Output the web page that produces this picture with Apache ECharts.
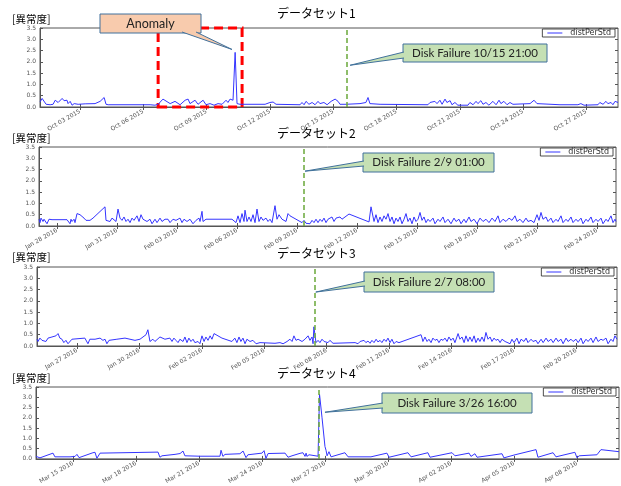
<!DOCTYPE html>
<html>
<head>
<meta charset="utf-8">
<script src="https://cdn.jsdelivr.net/npm/echarts@6/dist/echarts.min.js"></script>
<style>
  html, body { margin: 0; padding: 0; background: #fff; }
  #chart { width: 621px; height: 486px; }
</style>
</head>
<body>
<div id="chart"></div>
<script>
// x values are days since the base date of each dataset
const titles = ["データセット1", "データセット2", "データセット3", "データセット4"];
const bases = ["2015-10-01", "2016-01-27", "2016-01-25", "2016-03-13"];
const xRanges = [[0.10, 27.50], [0.10, 28.95], [0.08, 27.96], [0.24, 28.00]];
const tickDays = [
  [2, 5, 8, 11, 14, 17, 20, 23, 26],
  [1, 4, 7, 10, 13, 16, 19, 22, 25, 28],
  [2, 5, 8, 11, 14, 17, 20, 23, 26],
  [2, 5, 8, 11, 14, 17, 20, 23, 26]
];
const failureDays = [14.62, 13.35, 13.44, 13.71];
const failureLabels = ["Disk Failure 10/15 21:00", "Disk Failure 2/9 01:00", "Disk Failure 2/7 08:00", "Disk Failure 3/26 16:00"];
const anomalyRange = [5.70, 9.68];

const ds1 = [[0.10,0.22],[0.20,0.38],[0.29,0.30],[0.39,0.12],[0.48,0.08],[0.58,0.10],[0.72,0.12],[0.82,0.30],[0.91,0.35],[0.96,0.20],[1.05,0.25],[1.15,0.38],[1.24,0.28],[1.29,0.20],[1.38,0.30],[1.43,0.15],[1.53,0.25],[1.62,0.08],[1.72,0.15],[1.81,0.10],[1.91,0.12],[2.24,0.14],[2.71,0.15],[2.95,0.25],[3.14,0.42],[3.23,0.12],[3.33,0.10],[5.32,0.10],[5.55,0.08],[5.70,0.12],[5.93,0.35],[6.27,0.15],[6.50,0.25],[6.74,0.10],[6.98,0.30],[7.12,0.35],[7.21,0.15],[7.45,0.30],[7.59,0.12],[7.83,0.30],[7.97,0.10],[8.16,0.15],[8.35,0.08],[8.54,0.15],[8.73,0.12],[8.92,0.30],[9.01,0.20],[9.11,0.35],[9.25,0.30],[9.35,2.42],[9.44,0.15],[9.58,0.12],[10.77,0.12],[11.00,0.20],[11.15,0.22],[11.29,0.12],[12.43,0.10],[12.52,0.20],[12.62,0.10],[12.71,0.25],[12.85,0.12],[13.00,0.20],[13.14,0.10],[13.28,0.25],[13.37,0.15],[13.56,0.20],[13.71,0.10],[13.90,0.25],[14.09,0.35],[14.23,0.25],[14.32,0.12],[14.61,0.12],[15.27,0.15],[15.55,0.20],[15.65,0.42],[15.74,0.15],[16.22,0.12],[18.49,0.10],[18.59,0.20],[18.68,0.12],[18.82,0.25],[18.92,0.15],[19.06,0.30],[19.16,0.12],[19.30,0.35],[19.39,0.20],[19.54,0.28],[19.63,0.10],[19.77,0.20],[19.91,0.08],[20.39,0.08],[20.48,0.20],[20.63,0.10],[20.77,0.25],[20.86,0.15],[21.00,0.28],[21.10,0.12],[21.24,0.20],[21.38,0.08],[21.57,0.25],[21.72,0.10],[21.86,0.30],[21.95,0.15],[22.09,0.25],[22.24,0.10],[22.38,0.20],[22.52,0.12],[23.33,0.15],[23.52,0.30],[23.66,0.15],[24.75,0.10],[25.60,0.10],[25.74,0.15],[25.89,0.08],[26.55,0.10],[26.64,0.20],[26.79,0.12],[26.93,0.25],[27.02,0.15],[27.17,0.20],[27.26,0.10],[27.36,0.25],[27.50,0.20]];

const ds2 = [[0.10,0.30],[0.15,0.15],[0.20,0.35],[0.30,0.20],[0.35,0.30],[0.45,0.25],[0.50,0.10],[0.60,0.30],[0.65,0.25],[0.75,0.28],[1.50,0.28],[1.55,0.20],[1.60,0.35],[1.65,0.10],[1.70,0.30],[1.75,0.20],[1.85,0.30],[1.90,0.15],[2.00,0.55],[2.15,0.50],[2.35,0.35],[2.45,0.25],[2.65,0.25],[2.80,0.35],[3.40,0.85],[3.45,0.25],[3.55,0.30],[3.65,0.20],[3.75,0.35],[3.95,0.20],[4.05,0.75],[4.15,0.35],[4.25,0.25],[4.35,0.40],[4.45,0.20],[4.55,0.30],[4.65,0.15],[4.75,0.35],[4.85,0.25],[5.00,0.45],[5.10,0.20],[5.20,0.50],[5.30,0.30],[5.40,0.35],[5.50,0.20],[5.65,0.30],[5.75,0.10],[5.90,0.30],[6.00,0.15],[6.15,0.35],[6.25,0.20],[6.40,0.30],[6.55,0.30],[6.65,0.15],[6.80,0.30],[6.95,0.25],[7.15,0.35],[7.25,0.15],[7.35,0.30],[7.50,0.20],[7.65,0.30],[7.80,0.10],[7.95,0.25],[8.10,0.35],[8.15,0.20],[8.25,0.65],[8.30,0.20],[8.45,0.30],[8.55,0.25],[8.65,0.30],[9.75,0.30],[9.95,0.15],[10.05,0.45],[10.15,0.15],[10.25,0.55],[10.35,0.20],[10.40,0.70],[10.50,0.20],[10.60,0.40],[10.70,0.20],[10.80,0.50],[10.90,0.15],[11.00,0.75],[11.10,0.20],[11.20,0.40],[11.30,0.25],[11.45,0.35],[11.55,0.20],[11.65,0.30],[11.75,0.15],[11.90,0.90],[12.00,0.30],[12.10,0.50],[12.25,0.30],[12.35,0.35],[12.45,0.20],[12.55,0.55],[12.65,0.45],[13.25,0.15],[13.35,0.25],[13.45,0.12],[13.55,0.20],[13.65,0.10],[13.75,0.25],[13.85,0.15],[13.95,0.30],[14.05,0.15],[14.15,0.30],[14.25,0.20],[14.35,0.35],[14.45,0.15],[14.55,0.30],[14.65,0.25],[14.75,0.40],[14.85,0.20],[14.95,0.35],[15.05,0.30],[15.15,0.40],[15.25,0.30],[15.35,0.38],[15.60,0.53],[15.70,0.45],[16.60,0.18],[16.70,0.85],[16.85,0.20],[16.95,0.50],[17.05,0.15],[17.15,0.40],[17.25,0.20],[17.35,0.45],[17.45,0.30],[17.55,0.55],[17.65,0.20],[17.75,0.40],[17.85,0.10],[17.95,0.35],[18.05,0.20],[18.15,0.40],[18.25,0.10],[18.35,0.30],[18.45,0.55],[18.55,0.20],[18.65,0.35],[18.75,0.10],[18.85,0.40],[18.95,0.20],[19.05,0.30],[19.15,0.60],[19.25,0.25],[19.35,0.40],[19.45,0.15],[19.55,0.30],[19.65,0.20],[19.80,0.35],[19.90,0.10],[20.05,0.30],[20.15,0.20],[20.30,0.40],[20.40,0.15],[20.55,0.30],[20.70,0.10],[20.85,0.35],[20.95,0.20],[21.10,0.30],[21.20,0.10],[21.35,0.30],[21.45,0.15],[21.60,0.40],[21.70,0.20],[21.85,0.30],[22.00,0.10],[22.15,0.35],[22.30,0.20],[22.45,0.30],[22.60,0.15],[22.75,0.35],[22.90,0.20],[23.05,0.45],[23.15,0.15],[23.30,0.30],[23.45,0.20],[23.60,0.35],[23.75,0.25],[23.90,0.45],[24.00,0.20],[24.15,0.30],[24.30,0.15],[24.45,0.35],[24.55,0.20],[24.70,0.25],[24.85,0.15],[25.00,0.50],[25.10,0.25],[25.20,0.60],[25.30,0.30],[25.45,0.40],[25.55,0.20],[25.70,0.35],[25.80,0.15],[25.95,0.30],[26.05,0.20],[26.20,0.45],[26.30,0.15],[26.45,0.30],[26.55,0.20],[26.70,0.40],[26.80,0.15],[26.95,0.30],[27.05,0.20],[27.20,0.35],[27.30,0.10],[27.45,0.30],[27.55,0.20],[27.70,0.40],[27.80,0.15],[27.95,0.30],[28.05,0.20],[28.20,0.35],[28.30,0.10],[28.45,0.30],[28.55,0.20],[28.70,0.45],[28.80,0.15],[28.90,0.30],[28.95,0.20]];

const ds3 = [[0.08,0.30],[0.13,0.20],[0.22,0.35],[0.32,0.25],[0.41,0.30],[0.51,0.20],[0.61,0.35],[0.70,0.30],[0.80,0.40],[0.89,0.35],[0.99,0.45],[1.09,0.55],[1.18,0.35],[1.28,0.30],[1.37,0.15],[1.47,0.25],[1.57,0.10],[1.76,0.30],[2.38,0.35],[2.53,0.10],[2.62,0.30],[2.87,0.30],[3.11,0.35],[3.25,0.25],[3.35,0.30],[3.44,0.10],[3.54,0.25],[3.92,0.30],[4.31,0.35],[4.79,0.25],[5.03,0.30],[5.32,0.50],[5.41,0.72],[5.51,0.20],[5.65,0.30],[5.75,0.20],[5.99,0.40],[6.23,0.30],[6.47,0.35],[6.57,0.20],[6.66,0.35],[6.76,0.25],[6.86,0.15],[6.95,0.30],[7.10,0.20],[7.19,0.40],[7.29,0.15],[7.38,0.35],[7.48,0.20],[7.58,0.30],[7.67,0.15],[7.82,0.20],[7.91,0.10],[8.01,0.45],[8.11,0.20],[8.20,0.40],[8.30,0.25],[8.40,0.45],[8.49,0.30],[8.59,0.55],[8.78,0.45],[8.97,0.35],[9.45,0.20],[9.59,0.35],[9.69,0.15],[9.79,0.40],[9.88,0.20],[9.98,0.35],[10.08,0.10],[10.17,0.30],[10.32,0.20],[10.46,0.25],[10.61,0.10],[10.80,0.15],[11.52,0.12],[11.76,0.15],[11.91,0.10],[12.10,0.20],[12.24,0.30],[12.34,0.20],[12.43,0.45],[12.53,0.25],[12.63,0.30],[12.72,0.30],[12.82,0.20],[12.96,0.30],[13.11,0.45],[13.20,0.25],[13.30,0.40],[13.35,0.10],[13.39,0.85],[13.49,0.15],[13.59,0.25],[13.68,0.15],[13.78,0.30],[13.88,0.20],[13.97,0.28],[14.07,0.15],[14.16,0.25],[14.31,0.12],[15.37,0.15],[15.51,0.10],[15.61,0.20],[15.70,0.12],[15.80,0.25],[15.89,0.15],[15.99,0.22],[16.09,0.12],[16.18,0.25],[16.28,0.15],[16.38,0.30],[16.47,0.18],[16.57,0.25],[16.66,0.15],[16.76,0.30],[16.86,0.20],[16.95,0.35],[17.05,0.15],[17.14,0.30],[17.24,0.10],[17.34,0.20],[17.48,0.15],[18.54,0.50],[18.59,0.35],[18.63,0.20],[18.73,0.40],[18.83,0.20],[18.92,0.30],[19.02,0.15],[19.11,0.35],[19.21,0.25],[19.31,0.30],[19.40,0.15],[19.50,0.30],[19.60,0.25],[19.69,0.35],[19.79,0.20],[19.88,0.40],[19.98,0.25],[20.08,0.35],[20.17,0.15],[20.32,0.55],[20.41,0.30],[20.51,0.40],[20.61,0.15],[20.70,0.45],[20.80,0.20],[20.89,0.40],[20.99,0.20],[21.09,0.45],[21.18,0.15],[21.28,0.35],[21.37,0.20],[21.47,0.40],[21.57,0.20],[21.66,0.60],[21.76,0.30],[21.86,0.40],[21.95,0.20],[22.05,0.35],[22.14,0.25],[22.24,0.30],[22.34,0.15],[22.43,0.30],[22.58,0.20],[22.67,0.25],[22.82,0.10],[22.91,0.30],[23.01,0.15],[23.15,0.35],[23.25,0.10],[23.35,0.30],[23.49,0.20],[23.59,0.35],[23.68,0.15],[23.83,0.30],[23.92,0.20],[24.07,0.25],[24.16,0.10],[24.31,0.30],[24.41,0.15],[24.55,0.35],[24.65,0.20],[24.79,0.30],[24.89,0.15],[25.03,0.35],[25.13,0.20],[25.27,0.30],[25.37,0.10],[25.51,0.35],[25.61,0.20],[25.75,0.30],[25.85,0.20],[25.99,0.30],[26.09,0.15],[26.23,0.35],[26.33,0.10],[26.47,0.30],[26.57,0.20],[26.71,0.35],[26.81,0.15],[26.95,0.40],[27.05,0.20],[27.19,0.30],[27.29,0.25],[27.43,0.35],[27.53,0.10],[27.67,0.30],[27.77,0.20],[27.86,0.45],[27.96,0.30]];

const ds4 = [[0.24,0.12],[0.33,0.08],[0.43,0.05],[0.48,0.10],[0.67,0.14],[1.05,0.28],[1.14,0.10],[1.86,0.10],[2.10,0.12],[2.19,0.22],[2.29,0.06],[2.38,0.12],[2.95,0.30],[3.05,0.32],[3.14,0.03],[3.29,0.28],[6.05,0.33],[6.14,0.08],[6.24,0.15],[6.86,0.22],[7.10,0.26],[7.24,0.38],[7.33,0.15],[8.05,0.13],[9.00,0.13],[9.05,0.42],[9.14,0.12],[9.24,0.22],[9.95,0.25],[10.10,0.38],[10.24,0.06],[10.33,0.20],[11.00,0.28],[11.10,0.40],[11.19,0.02],[11.29,0.26],[12.10,0.28],[12.24,0.08],[12.43,0.15],[12.81,0.27],[12.95,0.30],[13.05,0.12],[13.10,0.28],[13.14,0.12],[13.24,0.20],[13.67,0.13],[13.74,3.15],[13.86,2.00],[14.00,0.60],[14.05,0.42],[14.10,0.15],[14.19,0.35],[14.29,0.10],[14.38,0.12],[14.95,0.30],[15.10,0.10],[16.19,0.10],[16.95,0.28],[17.05,0.08],[17.95,0.30],[18.10,0.10],[18.90,0.30],[19.00,0.08],[20.05,0.30],[20.19,0.15],[20.86,0.28],[20.95,0.12],[21.14,0.25],[21.24,0.08],[22.43,0.25],[22.52,0.05],[23.05,0.20],[24.05,0.45],[24.14,0.08],[24.86,0.30],[25.00,0.10],[25.90,0.32],[26.00,0.05],[26.10,0.15],[26.95,0.20],[27.14,0.45],[28.00,0.35]];

const datasets = [ds1, ds2, ds3, ds4];

const grids = [
  { left: 40, top: 28, width: 578, height: 79 },
  { left: 39, top: 147, width: 577, height: 79 },
  { left: 37, top: 267, width: 580, height: 79 },
  { left: 36, top: 387, width: 583, height: 80 }
];
const titleTops = [7, 127, 247, 367];
const unitTops = [14, 133, 252, 373];
const legendTops = [29, 148, 268, 388];

const MONTHS = ["Jan", "Feb", "Mar", "Apr", "May", "Jun", "Jul", "Aug", "Sep", "Oct", "Nov", "Dec"];
function dayLabel(base, d) {
  const t = new Date(Date.parse(base + "T00:00:00Z") + Math.round(d * 86400000));
  return MONTHS[t.getUTCMonth()] + " " + String(t.getUTCDate()).padStart(2, "0") + " " + t.getUTCFullYear();
}

const AX = "#555";
const LINE = "#3434ff";
const xAxes = [], yAxes = [], series = [];
grids.forEach((g, i) => {
  xAxes.push({
    type: "value", gridIndex: i, min: xRanges[i][0], max: xRanges[i][1],
    axisLine: { lineStyle: { color: AX } },
    axisTick: { inside: true, length: 3, customValues: tickDays[i], lineStyle: { color: AX } },
    axisLabel: {
      customValues: tickDays[i], rotate: 30, fontSize: 6, color: "#555", margin: 4,
      fontFamily: "DejaVu Sans", formatter: (v) => dayLabel(bases[i], v)
    },
    splitLine: { show: false }
  });
  xAxes.push({
    type: "value", gridIndex: i, position: "top", min: xRanges[i][0], max: xRanges[i][1],
    axisLine: { show: false },
    axisTick: { inside: true, length: 3, customValues: tickDays[i], lineStyle: { color: AX } },
    axisLabel: { show: false }, splitLine: { show: false }
  });
  yAxes.push({
    type: "value", gridIndex: i, min: 0, max: 3.5, interval: 0.5,
    axisLine: { show: true, lineStyle: { color: AX } },
    axisTick: { show: true, inside: true, length: 3, lineStyle: { color: AX } },
    axisLabel: { fontSize: 6, color: "#555", margin: 4, fontFamily: "DejaVu Sans", formatter: (v) => v.toFixed(1) },
    splitLine: { show: false }
  });
  yAxes.push({
    type: "value", gridIndex: i, position: "right", min: 0, max: 3.5, interval: 0.5,
    axisLine: { show: false },
    axisTick: { show: true, inside: true, length: 3, lineStyle: { color: AX } },
    axisLabel: { show: false }, splitLine: { show: false }
  });
  const s = {
    type: "line", name: "distPerStd", xAxisIndex: i * 2, yAxisIndex: i * 2,
    data: datasets[i], showSymbol: false, symbol: "none",
    lineStyle: { color: LINE, width: 1 }, itemStyle: { color: LINE },
    markLine: {
      silent: true, symbol: "none", label: { show: false },
      lineStyle: { color: "#6aa83a", type: [5, 3], width: 1.5 },
      data: [{ xAxis: failureDays[i] }]
    }
  };
  if (i === 0) {
    s.markArea = {
      silent: true,
      itemStyle: { color: "rgba(0,0,0,0)", borderColor: "#ff0000", borderWidth: 3, borderType: [9, 5] },
      data: [[{ xAxis: anomalyRange[0], yAxis: 0 }, { xAxis: anomalyRange[1], yAxis: 3.5 }]]
    };
  }
  series.push(s);
});

const chart = echarts.init(document.getElementById("chart"));
chart.setOption({
  animation: false,
  backgroundColor: "#fff",
  title: titles.map((t, i) => ({
    text: t, left: 277, top: titleTops[i], padding: 0,
    textStyle: { fontSize: 12, fontWeight: "normal", color: "#000", fontFamily: "Noto Sans CJK JP" }
  })),
  legend: grids.map((g, i) => ({
    data: ["distPerStd"], right: 621 - g.left - g.width + 3, top: legendTops[i],
    icon: "rect", itemWidth: 15, itemHeight: 1, itemGap: 0,
    itemStyle: { color: LINE },
    padding: [0, 4, 0, 5], borderColor: "#222", borderWidth: 0.8, backgroundColor: "#fff",
    textStyle: { fontSize: 8, color: "#333", fontFamily: "DejaVu Sans", padding: [0, 0, 0, 3] }
  })),
  grid: grids.map((g) => ({ ...g, show: true, borderColor: AX, borderWidth: 1, backgroundColor: "#fff" })),
  xAxis: xAxes,
  yAxis: yAxes,
  series: series
});

// callout boxes, each pointing at a spot given in data coordinates
const callouts = [
  { grid: 0, text: "Anomaly", box: [100, 14, 101, 19], base: [[182, 32], [196, 32]], tip: [9.2, 2.55], fill: "#F8CBAD", size: 12.5 },
  { grid: 0, text: failureLabels[0], box: [403, 44, 144, 18], base: [[404, 52], [404, 58]], tip: [14.8, 1.85], fill: "#C5E0B4", size: 11.5 },
  { grid: 1, text: failureLabels[1], box: [363, 153, 131, 19], base: [[364, 161], [364, 166]], tip: [13.4, 2.43], fill: "#C5E0B4", size: 11.5 },
  { grid: 2, text: failureLabels[2], box: [364, 272, 130, 20], base: [[365, 281], [365, 286]], tip: [13.48, 2.39], fill: "#C5E0B4", size: 11.5 },
  { grid: 3, text: failureLabels[3], box: [382, 393, 150, 20], base: [[383, 403], [383, 408]], tip: [14.0, 2.27], fill: "#C5E0B4", size: 11.5 }
];

const graphic = [];
unitTops.forEach((y) => {
  graphic.push({
    type: "text", left: 12, top: y, z: 100,
    style: { text: "[異常度]", font: "10.5px 'Noto Sans CJK JP'", fill: "#000" }
  });
});
callouts.forEach((c) => {
  const p = chart.convertToPixel({ xAxisIndex: c.grid * 2, yAxisIndex: c.grid * 2 }, c.tip);
  const pts = [c.base[0], p, c.base[1]];
  graphic.push({ type: "rect", z: 100, shape: { x: c.box[0], y: c.box[1], width: c.box[2], height: c.box[3] },
    style: { fill: c.fill, stroke: "#41719C", lineWidth: 1 } });
  graphic.push({ type: "polygon", z: 101, shape: { points: pts }, style: { fill: c.fill, stroke: null } });
  graphic.push({ type: "polyline", z: 101, shape: { points: pts }, style: { fill: null, stroke: "#41719C", lineWidth: 1 } });
  graphic.push({ type: "text", z: 102,
    style: { text: c.text, x: c.box[0] + c.box[2] / 2, y: c.box[1] + c.box[3] / 2, align: "center", verticalAlign: "middle",
      font: c.size + "px Lato", fill: "#222" } });
});
chart.setOption({ graphic: graphic });
</script>
</body>
</html>
